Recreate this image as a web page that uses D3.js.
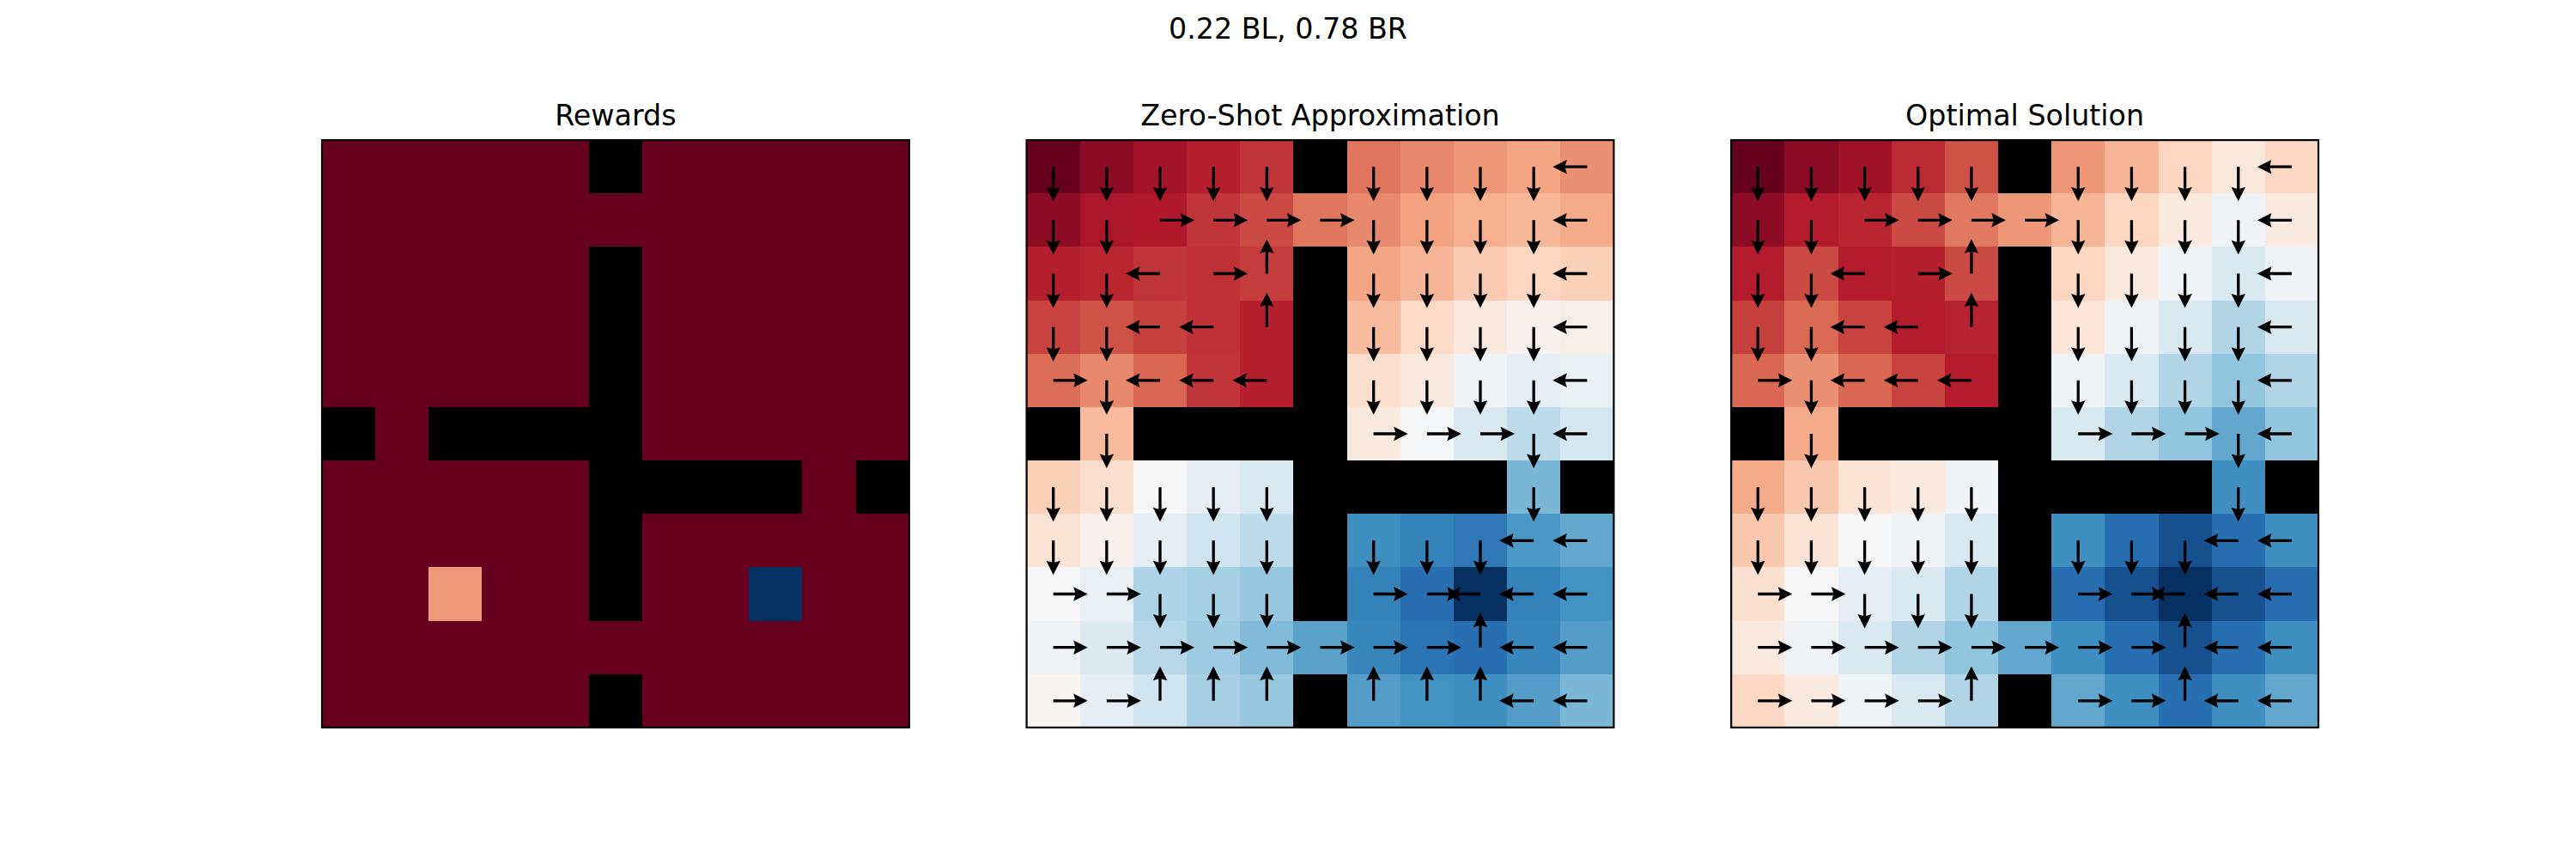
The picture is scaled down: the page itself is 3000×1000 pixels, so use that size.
<!DOCTYPE html>
<html>
<head>
<meta charset="utf-8">
<script src="https://cdn.jsdelivr.net/npm/d3@7"></script>
<style>
  html, body { margin: 0; padding: 0; background: #ffffff; }
  svg { display: block; }
</style>
</head>
<body>
<svg id="chart" width="3000" height="1000"></svg>
<script>
// ---------------- DATA ----------------
const suptitle = "0.22 BL, 0.78 BR";
const panelTitles = ["Rewards", "Zero-Shot Approximation", "Optimal Solution"];
const gridSize = 11;

// wall cells [row, col]
const wallCells = [[0,5],[2,5],[3,5],[4,5],[5,0],[5,2],[5,3],[5,4],[5,5],
                   [6,5],[6,6],[6,7],[6,8],[6,10],[7,5],[8,5],[10,5]];

// reward cells (all other open cells have reward 0)
const rewardCells = [{row: 8, col: 2, value: 0.22}, {row: 8, col: 8, value: 0.78}];
const rewardDomain = [0, 0.78];

// value estimates (null = wall)
const zeroShotValues = [
  [0.00,0.05,0.08,0.11,0.14,null,0.23,0.26,0.28,0.30,0.27],
  [0.05,0.09,0.10,0.14,0.17,0.23,0.26,0.295,0.32,0.335,0.31],
  [0.11,0.12,0.14,0.135,0.15,null,0.30,0.33,0.37,0.39,0.38],
  [0.16,0.18,0.155,0.135,0.11,null,0.34,0.40,0.45,0.48,0.47],
  [0.22,0.26,0.21,0.14,0.11,null,0.41,0.45,0.52,0.55,0.54],
  [null,0.34,null,null,null,null,0.45,0.505,0.58,0.63,0.59],
  [0.38,0.41,0.50,0.55,0.58,null,null,null,null,0.73,null],
  [0.43,0.48,0.55,0.60,0.63,null,0.81,0.84,0.86,0.79,0.76],
  [0.50,0.54,0.655,0.67,0.69,null,0.84,0.88,1.00,0.84,0.80],
  [0.52,0.57,0.64,0.68,0.72,0.77,0.83,0.87,0.88,0.83,0.78],
  [0.49,0.55,0.60,0.665,0.69,null,0.78,0.80,0.81,0.78,0.73]
];
const optimalValues = [
  [0.00,0.05,0.075,0.125,0.18,null,0.28,0.33,0.39,0.445,0.395],
  [0.05,0.105,0.12,0.17,0.235,0.28,0.33,0.39,0.45,0.52,0.45],
  [0.105,0.17,0.105,0.11,0.17,null,0.39,0.45,0.52,0.58,0.52],
  [0.155,0.215,0.16,0.105,0.115,null,0.44,0.52,0.58,0.65,0.58],
  [0.21,0.27,0.21,0.16,0.105,null,0.52,0.58,0.65,0.70,0.65],
  [null,0.31,null,null,null,null,0.58,0.65,0.70,0.76,0.70],
  [0.31,0.365,0.43,0.45,0.52,null,null,null,null,0.81,null],
  [0.365,0.43,0.50,0.52,0.58,null,0.81,0.88,0.94,0.88,0.81],
  [0.42,0.50,0.55,0.58,0.65,null,0.88,0.94,1.00,0.94,0.88],
  [0.45,0.52,0.58,0.65,0.70,0.76,0.81,0.88,0.94,0.88,0.81],
  [0.395,0.45,0.52,0.58,0.65,null,0.76,0.81,0.88,0.81,0.76]
];
const valueDomain = [0, 1];

// policy arrows: D=down U=up L=left R=right .=none
const zeroShotArrows = [
  "DDDDD.DDDDL",
  "DDRRRRDDDDL",
  "DDLRU.DDDDL",
  "DDLLU.DDDDL",
  "RDLLL.DDDDL",
  ".D....RRRDL",
  "DDDDD....D.",
  "DDDDD.DDDLL",
  "RRDDD.RRLLL",
  "RRRRRRRRULL",
  "RRUUU.UUULL"
];
const optimalArrows = [
  "DDDDD.DDDDL",
  "DDRRRRDDDDL",
  "DDLRU.DDDDL",
  "DDLLU.DDDDL",
  "RDLLL.DDDDL",
  ".D....RRRDL",
  "DDDDD....D.",
  "DDDDD.DDDLL",
  "RRDDD.RRLLL",
  "RRRRRRRRULL",
  "RRRRU.RRULL"
];

// matplotlib RdBu colormap stops
const rdbuStops = ["#67001f","#b2182b","#d6604d","#f4a582","#fddbc7","#f7f7f7",
                   "#d1e5f0","#92c5de","#4393c3","#2166ac","#053061"];

// ---------------- DRAWING ----------------
const svg = d3.select("#chart");
const FONT = "DejaVu Sans, Liberation Sans, sans-serif";

const panelScale = d3.scaleBand().domain([0,1,2]).range([375, 2700]).paddingInner(1/6).paddingOuter(0);
const side = panelScale.bandwidth();
const topY = 505 - side / 2;

const cmapBase = d3.scaleLinear()
  .domain(d3.range(rdbuStops.length).map(i => i / (rdbuStops.length - 1)))
  .range(rdbuStops)
  .interpolate(d3.interpolateRgb)
  .clamp(true);

const isWall = new Set(wallCells.map(([r,c]) => r + "," + c));

svg.append("text")
  .attr("x", 1500).attr("y", 45)
  .attr("text-anchor", "middle")
  .attr("font-family", FONT).attr("font-size", 33.3)
  .attr("fill", "#000")
  .text(suptitle);

function makePanel(i, valueGrid, domain, arrows) {
  const x0 = panelScale(i);
  const xs = d3.scaleBand().domain(d3.range(gridSize)).range([x0, x0 + side]);
  const ys = d3.scaleBand().domain(d3.range(gridSize)).range([topY, topY + side]);
  const norm = d3.scaleLinear().domain(domain).range([0, 1]);
  const g = svg.append("g");

  const cells = [];
  for (let r = 0; r < gridSize; r++) {
    for (let c = 0; c < gridSize; c++) {
      const wall = isWall.has(r + "," + c);
      cells.push({r, c, wall, v: wall ? null : valueGrid[r][c]});
    }
  }
  g.selectAll("rect.cell").data(cells).join("rect")
    .attr("class", "cell")
    .attr("x", d => xs(d.c)).attr("y", d => ys(d.r))
    .attr("width", d => Math.min(xs.bandwidth() + 0.6, x0 + side - xs(d.c)))
    .attr("height", d => Math.min(ys.bandwidth() + 0.6, topY + side - ys(d.r)))
    .attr("shape-rendering", "crispEdges")
    .attr("fill", d => d.wall ? "#000000" : cmapBase(norm(d.v)));

  if (arrows) {
    const L = 40, sw = 3.3, hl = 16.5, hla = 14.5, hw = 16.5;
    const arrowPath = `M0,${-sw/2} L${L-hla},${-sw/2} L${L-hl},${-hw/2} L${L},0 L${L-hl},${hw/2} L${L-hla},${sw/2} L0,${sw/2} Z`;
    const angle = {R: 0, D: 90, L: 180, U: 270};
    const arr = [];
    arrows.forEach((row, r) => row.split("").forEach((ch, c) => {
      if (angle[ch] !== undefined) arr.push({r, c, a: angle[ch]});
    }));
    g.selectAll("path.arrow").data(arr).join("path")
      .attr("class", "arrow")
      .attr("d", arrowPath)
      .attr("fill", "#000")
      .attr("transform", d => `translate(${xs(d.c) + xs.bandwidth()/2},${ys(d.r) + ys.bandwidth()/2}) rotate(${d.a})`);
  }

  g.append("rect")
    .attr("x", x0).attr("y", topY).attr("width", side).attr("height", side)
    .attr("fill", "none").attr("stroke", "#000").attr("stroke-width", 2.2);

  svg.append("text")
    .attr("x", x0 + side / 2).attr("y", topY - 16.7)
    .attr("text-anchor", "middle")
    .attr("font-family", FONT).attr("font-size", 33.3)
    .attr("fill", "#000")
    .text(panelTitles[i]);
}

// reward grid built from reward cells
const rewardGrid = d3.range(gridSize).map(() => d3.range(gridSize).map(() => 0));
rewardCells.forEach(d => { rewardGrid[d.row][d.col] = d.value; });

makePanel(0, rewardGrid, rewardDomain, null);
makePanel(1, zeroShotValues, valueDomain, zeroShotArrows);
makePanel(2, optimalValues, valueDomain, optimalArrows);
</script>
</body>
</html>
